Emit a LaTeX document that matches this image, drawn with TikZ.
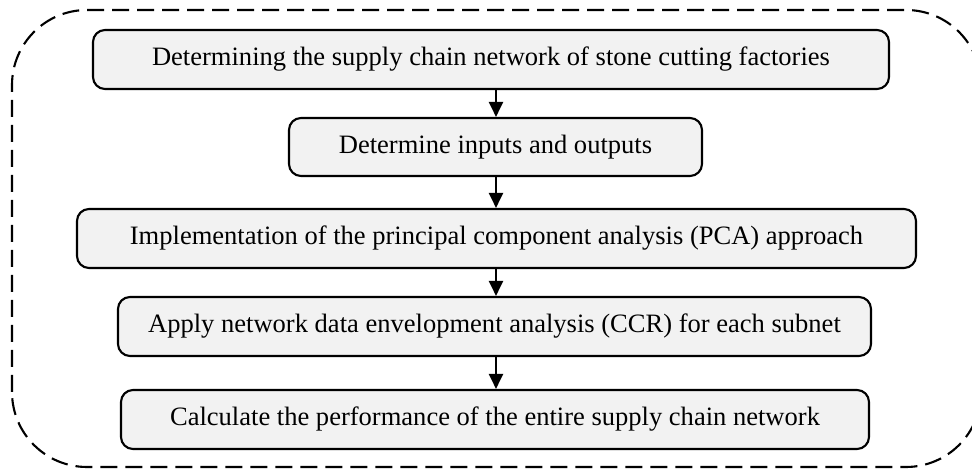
\documentclass[tikz,border=0pt]{standalone}
\usepackage{fontspec}
\setmainfont{Liberation Serif}
\usetikzlibrary{arrows.meta}

\begin{document}
\begin{tikzpicture}[
		every node/.style={rectangle, rounded corners=0.24cm, draw, line width=1.2pt, fill={rgb,255:red,242;green,242;blue,242}, inner sep=0pt, minimum height=1.18cm, font=\fontsize{15.1}{18}\selectfont},
		flow/.style={line width=1.2pt, -{Triangle[length=0.3cm, width=0.28cm]}}
	]
  \useasboundingbox (0cm, 0cm) rectangle (19.44cm, 9.44cm);
  \draw [dashed, dash pattern=on 0.34cm off 0.16cm, line width=1.2pt, rounded corners=1.5cm] (0.24cm, 0.1cm) rectangle (19.62cm, 9.24cm);
  \node (s_1) [minimum width=15.92cm] at (9.82cm, 8.25cm) {Determining the supply chain network of stone cutting factories};
  \node (s_2) [minimum width=8.26cm, minimum height=1.16cm] at (9.91cm, 6.50cm) {Determine inputs and outputs};
  \node (s_3) [minimum width=16.78cm] at (9.93cm, 4.67cm) {Implementation of the principal component analysis (PCA) approach};
  \node (s_4) [minimum width=15.06cm] at (9.89cm, 2.91cm) {Apply network data envelopment analysis (CCR) for each subnet};
  \node (s_5) [minimum width=14.96cm] at (9.90cm, 1.05cm) {Calculate the performance of the entire supply chain network};
  \coordinate (ax) at (9.92cm, 0cm);
  \draw [flow] (s_1.south -| ax) -- (s_2.north -| ax);
  \draw [flow] (s_2.south -| ax) -- (s_3.north -| ax);
  \draw [flow] (s_3.south -| ax) -- (s_4.north -| ax);
  \draw [flow] (s_4.south -| ax) -- (s_5.north -| ax);
\end{tikzpicture}
\end{document}
